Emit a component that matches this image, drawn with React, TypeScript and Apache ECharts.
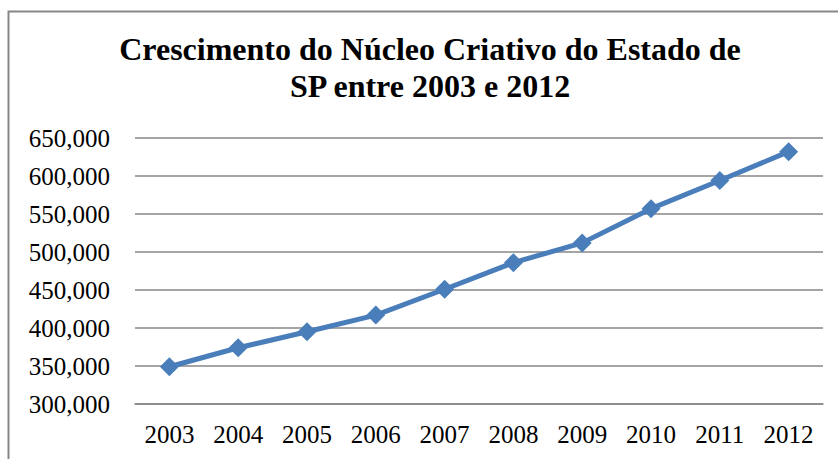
import React, { useEffect, useRef } from "react";
import * as echarts from "echarts";

const years = ["2003", "2004", "2005", "2006", "2007", "2008", "2009", "2010", "2011", "2012"];
const values = [349000, 374000, 395000, 417000, 451000, 486000, 512000, 557000, 594000, 632000];
const titleLines = ["Crescimento do Núcleo Criativo do Estado de", "SP entre 2003 e 2012"];

export default function App() {
  const ref = useRef<HTMLDivElement>(null);
  useEffect(() => {
    if (!ref.current) return;
    const chart = echarts.init(ref.current, null, { renderer: "svg" });
    const serif = '"Liberation Serif", "Times New Roman", serif';
    chart.setOption({
      animation: false,
      backgroundColor: "#ffffff",
      graphic: [
        {
          type: "rect",
          shape: { x: 8.5, y: 11.5, width: 1000, height: 600 },
          style: { fill: "none", stroke: "#878787", lineWidth: 2 },
          silent: true,
        },
        {
          type: "text",
          x: 430,
          y: 30,
          style: {
            text: titleLines.join("\n"),
            font: `bold 32px ${serif}`,
            lineHeight: 37,
            textAlign: "center",
            textVerticalAlign: "top",
            fill: "#000",
          },
        },
      ],
      grid: { left: 135, right: 15, top: 138, bottom: 55 },
      xAxis: {
        type: "category",
        data: years,
        boundaryGap: true,
        axisLine: { show: true, lineStyle: { color: "#878787", width: 1.5 } },
        axisTick: { show: false },
        axisLabel: { color: "#000", fontFamily: serif, fontSize: 25, margin: 18 },
      },
      yAxis: {
        type: "value",
        min: 300000,
        max: 650000,
        interval: 50000,
        axisLine: { show: false },
        axisTick: { show: false },
        splitLine: { lineStyle: { color: "#878787", width: 1.5 } },
        axisLabel: {
          color: "#000",
          fontFamily: serif,
          fontSize: 25,
          margin: 25,
          formatter: (v: number) => v.toLocaleString("en-US"),
        },
      },
      series: [
        {
          type: "line",
          data: values,
          symbol: "diamond",
          symbolSize: 19,
          lineStyle: { color: "#4a7ebb", width: 5 },
          itemStyle: { color: "#4a7ebb" },
        },
      ],
    });
    return () => chart.dispose();
  }, []);
  return (
    <div
      ref={ref}
      style={{ position: "fixed", left: 0, top: 0, width: 838, height: 459 }}
    />
  );
}
